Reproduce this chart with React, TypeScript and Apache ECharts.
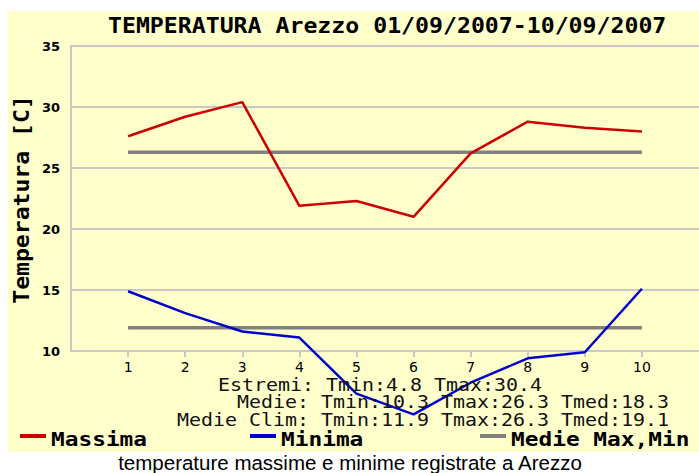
import React, { useEffect, useRef } from "react";
import * as echarts from "echarts";

const days = [1, 2, 3, 4, 5, 6, 7, 8, 9, 10];
const massima = [27.6, 29.2, 30.4, 21.9, 22.3, 21.0, 26.2, 28.8, 28.3, 28.0];
const minima = [14.9, 13.1, 11.6, 11.1, 6.5, 4.8, 7.4, 9.4, 9.9, 15.1];
const medieMax = 26.3;
const medieMin = 11.9;
const yMin = 10;
const yMax = 35;
const yStep = 5;

const titleText = "TEMPERATURA Arezzo 01/09/2007-10/09/2007";
const yName = "Temperatura [C]";
const statLines = [
  "Estremi: Tmin:4.8 Tmax:30.4",
  "Medie: Tmin:10.3 Tmax:26.3 Tmed:18.3",
  "Medie Clim: Tmin:11.9 Tmax:26.3 Tmed:19.1",
];
const legendNames = ["Massima", "Minima", "Medie Max,Min"];
const caption = "temperature massime e minime registrate a Arezzo";

const RED = "#cc0000";
const BLUE = "#0000cc";
const GRAY = "#808080";
const GRID = "#c8c8c8";
const MONO = "'DejaVu Sans Mono', monospace";
const SX = 1.1;

export default function App() {
  const ref = useRef<HTMLDivElement>(null);
  useEffect(() => {
    if (!ref.current) return;
    const chart = echarts.init(ref.current, null, { renderer: "svg" });
    const statX = [218, 237, 177];
    const statY = [385, 402, 420];
    const legX = [20, 250, 480];
    const legColors = [RED, BLUE, GRAY];
    const graphic: any[] = [
      {
        type: "rect",
        z: -100,
        silent: true,
        shape: { x: 8, y: 11, width: 691, height: 441 },
        style: { fill: "#ffffcc" },
      },
      {
        type: "text",
        x: 108,
        y: 25,
        scaleX: 1.105,
        style: {
          text: titleText,
          font: `bold 21px ${MONO}`,
          fill: "#000",
          textAlign: "left",
          textVerticalAlign: "middle",
        },
      },
      {
        type: "text",
        x: 22,
        y: 199.5,
        rotation: Math.PI / 2,
        scaleX: SX,
        style: {
          text: yName,
          font: `bold 21px ${MONO}`,
          fill: "#000",
          textAlign: "center",
          textVerticalAlign: "middle",
        },
      },
      ...statLines.map((t, i) => ({
        type: "text",
        x: statX[i],
        y: statY[i],
        z: 10,
        scaleX: 1.14,
        style: {
          text: t,
          font: `17.5px ${MONO}`,
          fill: "#111",
          textAlign: "left",
          textVerticalAlign: "middle",
        },
      })),
      ...legendNames.map((t, i) => ({
        type: "line",
        shape: { x1: legX[i], y1: 436, x2: legX[i] + 26, y2: 436 },
        style: { stroke: legColors[i], lineWidth: 4 },
      })),
      ...legendNames.map((t, i) => ({
        type: "text",
        x: legX[i] + 31,
        y: 439,
        scaleX: 1.14,
        style: {
          text: t,
          font: `bold 20px ${MONO}`,
          fill: "#000",
          textAlign: "left",
          textVerticalAlign: "middle",
        },
      })),
      {
        type: "text",
        x: 350,
        y: 462,
        style: {
          text: caption,
          font: "20.5px 'Liberation Sans', Arial, sans-serif",
          fill: "#000",
          textAlign: "center",
          textVerticalAlign: "middle",
        },
      },
    ];

    chart.setOption({
      animation: false,
      backgroundColor: "#ffffff",
      grid: { left: 71, right: -8, top: 46, bottom: 122, containLabel: false },
      xAxis: {
        type: "value",
        min: 0,
        max: 11,
        interval: 1,
        axisLine: { show: true, lineStyle: { color: GRID, width: 2 } },
        axisTick: {
          show: true,
          customValues: days,
          length: 6,
          lineStyle: { color: GRID, width: 2 },
        },
        axisLabel: {
          customValues: days,
          margin: 9,
          fontFamily: "'DejaVu Sans', sans-serif",
          fontSize: 14,
          color: "#000",
        },
        splitLine: { show: false },
      },
      yAxis: {
        type: "value",
        min: yMin,
        max: yMax,
        interval: yStep,
        axisLine: { show: true, lineStyle: { color: GRID, width: 2 } },
        axisTick: { show: false },
        axisLabel: {
          margin: 11,
          fontFamily: "'DejaVu Sans', sans-serif",
          fontWeight: "bold",
          fontSize: 13,
          color: "#000",
        },
        splitLine: { show: true, lineStyle: { color: GRID, width: 2 } },
      },
      series: [
        {
          name: "Medie Max",
          type: "line",
          data: days.map((d) => [d, medieMax]),
          showSymbol: false,
          clip: false,
          lineStyle: { color: GRAY, width: 3.5 },
          z: 2,
        },
        {
          name: "Medie Min",
          type: "line",
          data: days.map((d) => [d, medieMin]),
          showSymbol: false,
          clip: false,
          lineStyle: { color: GRAY, width: 3.5 },
          z: 2,
        },
        {
          name: "Massima",
          type: "line",
          data: days.map((d, i) => [d, massima[i]]),
          showSymbol: false,
          clip: false,
          lineStyle: { color: RED, width: 2.5 },
          z: 3,
        },
        {
          name: "Minima",
          type: "line",
          data: days.map((d, i) => [d, minima[i]]),
          showSymbol: false,
          clip: false,
          lineStyle: { color: BLUE, width: 2.5 },
          z: 3,
        },
      ],
      graphic,
    });
    return () => chart.dispose();
  }, []);
  return (
    <div
      ref={ref}
      style={{ position: "fixed", left: 0, top: 0, width: 699, height: 473 }}
    />
  );
}
